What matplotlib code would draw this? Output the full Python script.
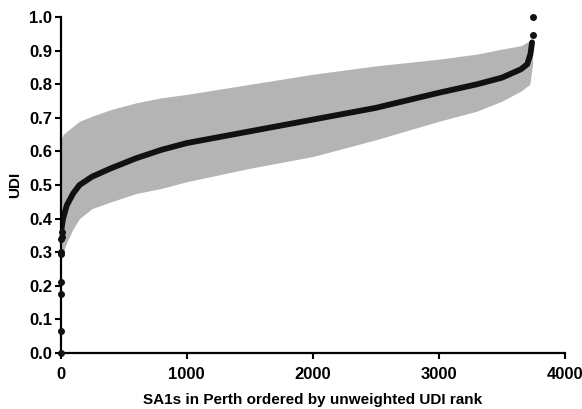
import matplotlib
matplotlib.use("Agg")
import matplotlib.pyplot as plt

plt.rcParams['font.family'] = ['Liberation Sans', 'DejaVu Sans']
plt.rcParams['font.weight'] = 'bold'

# values (rank, UDI)
curve_rank = [8, 20, 50, 100, 150, 250, 400, 600, 800, 1000, 1500, 2000,
              2500, 3000, 3300, 3500, 3650, 3700, 3725, 3738]
curve_udi = [0.37, 0.40, 0.44, 0.475, 0.50, 0.525, 0.55, 0.58, 0.605, 0.625,
             0.66, 0.695, 0.73, 0.775, 0.80, 0.82, 0.845, 0.86, 0.89, 0.925]

band_rank = [0, 8, 20, 50, 100, 150, 250, 400, 600, 800, 1000, 1500, 2000,
             2500, 3000, 3300, 3500, 3650, 3720, 3742]
band_upper = [0.60, 0.64, 0.65, 0.66, 0.675, 0.69, 0.705, 0.725, 0.745, 0.76,
              0.77, 0.80, 0.83, 0.855, 0.875, 0.89, 0.905, 0.915, 0.93, 0.93]
band_lower = [0.0, 0.28, 0.30, 0.33, 0.37, 0.40, 0.43, 0.45, 0.475, 0.49,
              0.51, 0.55, 0.585, 0.635, 0.69, 0.72, 0.75, 0.78, 0.80, 0.86]

# isolated points at both ends of the ranking
low_rank = [0, 2, 4, 5, 6, 7, 7, 8, 8]
low_udi = [0.0, 0.065, 0.175, 0.21, 0.295, 0.30, 0.34, 0.345, 0.36]
high_rank = [3744, 3744]
high_udi = [0.946, 1.0]

fig = plt.figure(figsize=(5.82, 4.09), dpi=100)
ax = fig.add_axes([0.104, 0.137, 0.867, 0.821])

ax.fill_between(band_rank, band_lower, band_upper, color='#b4b4b4', lw=0)
ax.plot(curve_rank, curve_udi, color='#111111', lw=4.2, solid_capstyle='round')
ax.scatter(low_rank, low_udi, s=16, color='#111111', zorder=3, clip_on=False)
ax.scatter(high_rank, high_udi, s=16, color='#111111', zorder=3, clip_on=False)

ax.set_xlim(0, 4000)
ax.set_ylim(0, 1.0)
ax.set_xticks([0, 1000, 2000, 3000, 4000])
ax.set_yticks([i / 10 for i in range(11)])
ax.set_yticklabels([f'{i / 10:.1f}' for i in range(11)])

for s in ['top', 'right']:
    ax.spines[s].set_visible(False)
for s in ['left', 'bottom']:
    ax.spines[s].set_linewidth(1.6)
ax.tick_params(width=1.5, length=4, labelsize=12, pad=2)
ax.tick_params(axis='x', pad=6)
for lab in ax.get_xticklabels() + ax.get_yticklabels():
    lab.set_fontweight('bold')

ax.set_xlabel('SA1s in Perth ordered by unweighted UDI rank', fontsize=11,
              fontweight='bold', labelpad=8)
ax.set_ylabel('UDI', fontsize=11, fontweight='bold', labelpad=5)

fig.savefig('out.png', dpi=100)
